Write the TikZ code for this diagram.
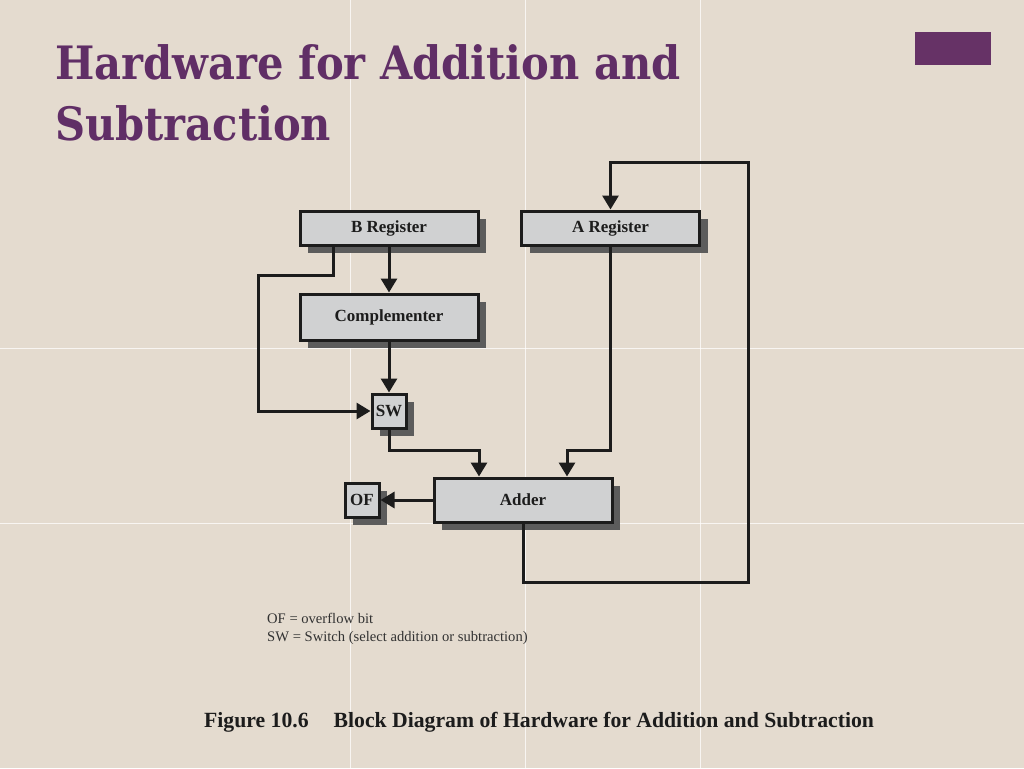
\documentclass[tikz,border=0pt]{standalone}
\usepackage{fontspec}
\setmainfont{Liberation Serif}
\newfontfamily\titlefont{DejaVu Serif}
\usetikzlibrary{arrows.meta,shadows}
\definecolor{bgc}{RGB}{228,219,207}
\definecolor{boxfill}{RGB}{208,209,210}
\definecolor{shadowc}{RGB}{92,92,92}
\definecolor{purp}{RGB}{96,46,102}
\definecolor{rectc}{RGB}{102,50,102}
\definecolor{inkc}{RGB}{28,28,28}
\definecolor{legc}{RGB}{50,50,50}
\newcommand{\ttltext}[1]{\scalebox{0.905}[1]{\bfseries #1}}
\tikzset{
  blk/.style={draw=inkc, line width=3pt, fill=boxfill, inner sep=0pt,
    font=\fontsize{17}{20}\selectfont\bfseries, text=inkc,
    drop shadow={shadow xshift=8pt, shadow yshift=-8pt, fill=shadowc, opacity=1}},
  conn/.style={draw=inkc, line width=3pt},
  arr/.style={conn, -{Triangle[length=14pt,width=16pt]}},
  gridl/.style={draw=white, line width=0.8pt, opacity=0.75},
  ttl/.style={anchor=base west, inner sep=0pt, text=purp, font=\titlefont\fontsize{46}{60}\selectfont},
  legend/.style={anchor=base west, inner sep=0pt, text=legc, font=\fontsize{14.6}{18}\selectfont},
}
\begin{document}
\begin{tikzpicture}[x=1pt,y=-1pt]
\fill[bgc] (0,0) rectangle (1024,768);
\useasboundingbox (0,0) rectangle (1024,768);
% background tile seams
\foreach \gx in {350,525,700} \draw[gridl] (\gx,0) -- (\gx,768);
\foreach \gy in {348,523} \draw[gridl] (0,\gy) -- (1024,\gy);
% title
\node[ttl] (title1) at (55,79.5) {\ttltext{Hardware for Addition and}};
\node[ttl] (title2) at (55,140) {\ttltext{Subtraction}};
\fill[rectc] (915,32) rectangle (991,65);
% blocks
\node[blk, minimum width=178pt, minimum height=34pt] (B) at (389,228) {B Register};
\node[blk, minimum width=178pt, minimum height=34pt] (A) at (610.5,228) {A Register};
\node[blk, minimum width=178pt, minimum height=46pt] (C) at (389,317) {Complementer};
\node[blk, minimum width=34pt, minimum height=34pt] (SW) at (389,411) {SW};
\node[blk, minimum width=178pt, minimum height=44pt] (Add) at (523,500) {Adder};
\node[blk, minimum width=34pt, minimum height=34pt] (OF) at (362,500) {OF};
% connectors
\coordinate (bl) at (258,275);
\coordinate (j1) at (479,450);
\coordinate (j2) at (567,450);
\coordinate (fb1) at (748,582);
\coordinate (fb2) at (748,162);
\draw[arr] (B.south) -- (C.north);
\draw[arr] (C.south) -- (SW.north);
\draw[arr] ([xshift=-56pt]B.south) |- (bl) |- (SW.west);
\draw[arr] (SW.south) |- (j1) -- (j1 |- Add.north);
\draw[arr] (A.south) |- (j2) -- (j2 |- Add.north);
\draw[arr] (Add.west) -- (OF.east);
\draw[arr] (Add.south) |- (fb1) -- (fb2) -| (A.north);
% legend
\node[legend] (leg1) at (267,623) {OF = overflow bit};
\node[legend] (leg2) at (267,641) {SW = Switch (select addition or subtraction)};
% caption
\node[anchor=base west, inner sep=0pt, text=inkc,
  font=\fontsize{21.7}{26}\selectfont\bfseries] (cap) at (204,727)
  {Figure 10.6\hspace{25pt}Block Diagram of Hardware for Addition and Subtraction};
\end{tikzpicture}
\end{document}
